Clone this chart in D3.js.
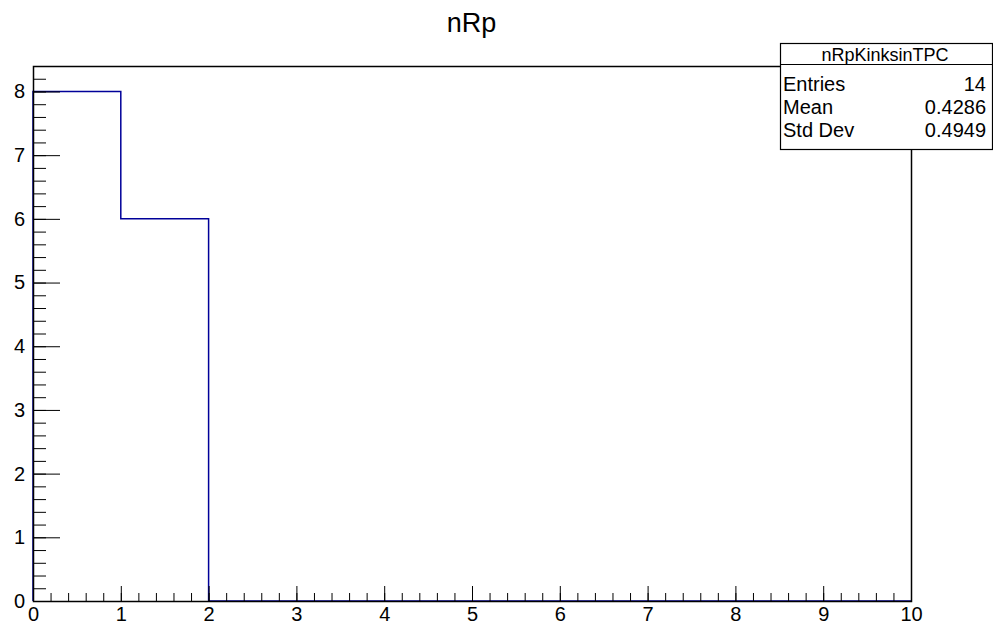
<!DOCTYPE html>
<meta charset="utf-8">
<script src="https://d3js.org/d3.v7.min.js"></script>
<style>
  body { margin: 0; background: #fff; }
  text { font-family: "Liberation Sans", Helvetica, Arial, sans-serif; }
</style>
<div id="chart"></div>
<script>
    // histogram nRp : 10 bins from 0 to 10
    const binEdges = [0, 1, 2, 3, 4, 5, 6, 7, 8, 9, 10];
    const counts = [8, 6, 0, 0, 0, 0, 0, 0, 0, 0];
    const xTicks = [0, 1, 2, 3, 4, 5, 6, 7, 8, 9, 10];
    const yTicks = [0, 1, 2, 3, 4, 5, 6, 7, 8];
    const statsNames = ["Entries", "Mean", "Std Dev"];
    const statsValues = ["14", "0.4286", "0.4949"];
    const histName = "nRpKinksinTPC";
    const title = "nRp";

    var W = 993, H = 626;
    var frame = {left: 33, right: 911, top: 66, bottom: 601};

    var svg = d3.select("#chart").append("svg")
        .attr("width", W).attr("height", H);

    var x = d3.scaleLinear().domain([0, 10]).range([frame.left, frame.right]);
    var y = d3.scaleLinear().domain([0, 8.4]).range([frame.bottom, frame.top]);

    // histogram outline
    var pts = [[binEdges[0], 0]];
    counts.forEach(function(c, i) {
        pts.push([binEdges[i], c]);
        pts.push([binEdges[i + 1], c]);
    });
    pts.push([binEdges[binEdges.length - 1], 0]);
    svg.append("path")
        .attr("d", d3.line().x(d => x(d[0])).y(d => y(d[1]))(pts))
        .attr("fill", "none")
        .attr("stroke", "#000099")
        .attr("stroke-width", 1.5);

    // minor ticks
    var xMinor = d3.range(0, 50.5, 1).map(d => d / 5);
    var yMinor = d3.range(0, 42.5, 1).map(d => d / 5);
    svg.append("g").selectAll("line").data(xMinor).enter().append("line")
        .attr("x1", d => x(d) + 0.5).attr("x2", d => x(d) + 0.5)
        .attr("y1", frame.bottom).attr("y2", frame.bottom - 8)
        .attr("stroke", "#000");
    svg.append("g").selectAll("line").data(yMinor).enter().append("line")
        .attr("y1", d => y(d) + 0.5).attr("y2", d => y(d) + 0.5)
        .attr("x1", frame.left).attr("x2", frame.left + 13)
        .attr("stroke", "#000");

    // major axes
    var xAxis = svg.append("g")
        .attr("transform", "translate(0," + frame.bottom + ")")
        .call(d3.axisBottom(x).tickValues(xTicks).tickSize(-15).tickSizeOuter(0).tickPadding(6));
    var yAxis = svg.append("g")
        .attr("transform", "translate(" + frame.left + ",0)")
        .call(d3.axisLeft(y).tickValues(yTicks).tickSize(-27).tickSizeOuter(0).tickPadding(8));
    [xAxis, yAxis].forEach(function(a) {
        a.select(".domain").remove();
        a.attr("font-size", 20).attr("font-family", null);
        a.selectAll("text").attr("fill", "#000");
        a.selectAll("line").attr("stroke", "#000");
    });

    // frame
    svg.append("rect")
        .attr("x", frame.left + 0.5).attr("y", frame.top + 0.5)
        .attr("width", frame.right - frame.left).attr("height", frame.bottom - frame.top)
        .attr("fill", "none").attr("stroke", "#000").attr("stroke-width", 1.5);

    // title
    svg.append("text")
        .attr("x", 471.5).attr("y", 32)
        .attr("text-anchor", "middle")
        .attr("font-size", 27)
        .text(title);

    // stats box
    var box = {x: 780, y: 43, w: 212, h: 106, sep: 64};
    svg.append("rect")
        .attr("x", box.x + 0.5).attr("y", box.y + 0.5)
        .attr("width", box.w).attr("height", box.h)
        .attr("fill", "#fff").attr("stroke", "#000").attr("stroke-width", 1.2);
    svg.append("line")
        .attr("x1", box.x).attr("x2", box.x + box.w)
        .attr("y1", box.sep + 0.5).attr("y2", box.sep + 0.5)
        .attr("stroke", "#000").attr("stroke-width", 1.2);
    svg.append("text")
        .attr("x", box.x + box.w / 2 - 1).attr("y", 61)
        .attr("text-anchor", "middle").attr("font-size", 18)
        .text(histName);
    var rowY = d3.scalePoint().domain(statsNames).range([91, 137]);
    svg.append("g").selectAll("text").data(statsNames).enter().append("text")
        .attr("x", box.x + 3).attr("y", d => rowY(d))
        .attr("font-size", 20).text(d => d);
    svg.append("g").selectAll("text").data(statsValues).enter().append("text")
        .attr("x", 986).attr("y", (d, i) => rowY(statsNames[i]))
        .attr("text-anchor", "end")
        .attr("font-size", 20).text(d => d);
</script>
